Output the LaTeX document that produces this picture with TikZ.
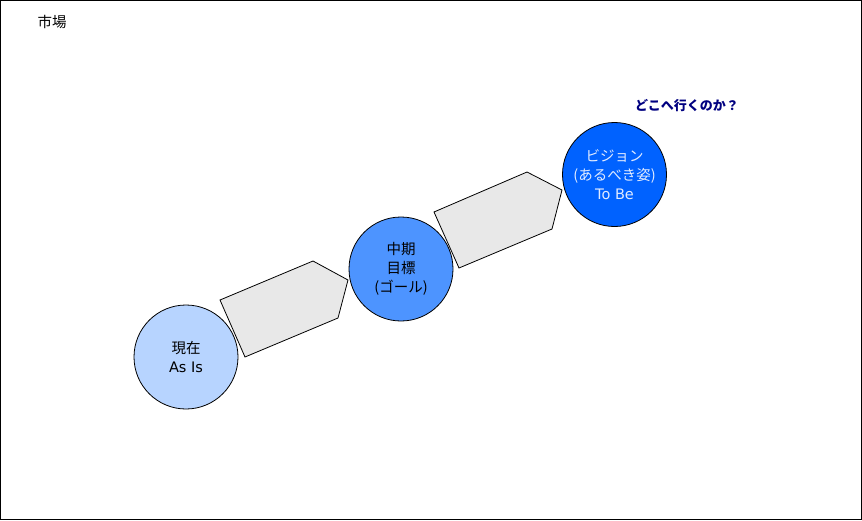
\documentclass[tikz,border=0pt]{standalone}
\usepackage{fontspec}
\setmainfont{DejaVu Sans}
\newfontfamily\jp{Noto Sans CJK JP}
\begin{document}
\begin{tikzpicture}[x=1pt,y=-1pt,
  stage/.style={circle,draw=black,line width=0.8pt,minimum size=104pt,inner sep=0pt,
    font=\fontsize{14.5}{19}\selectfont,align=center},
  arrowshape/.style={draw=black,fill=gray!18,line width=0.8pt,line join=miter}]
\useasboundingbox (0,0) rectangle (862,520);
\draw[line width=1pt] (0.5,0.5) rectangle (861.5,519.5);
\node[font=\fontsize{14.5}{16}\selectfont\jp] (market) at (52,22) {市場};
\node[font=\fontsize{13}{15}\selectfont\jp\bfseries,text={rgb,255:red,0;green,0;blue,128}] (question) at (687,106) {どこへ行くのか？};
\node[stage,fill={rgb,255:red,183;green,212;blue,255}] (asis) at (186,357) {{\jp 現在}\\As Is};
\node[stage,fill={rgb,255:red,77;green,148;blue,255}] (goal) at (401,269) {{\jp 中期}\\{\jp 目標}\\{\jp (ゴール)}};
\node[stage,fill={rgb,255:red,0;green,98;blue,255},text={rgb,255:red,225;green,235;blue,255}] (tobe) at (614.5,174.5) {{\jp ビジョン}\\{\jp (あるべき姿)}\\To Be};
\draw[arrowshape] (220,300) -- (313,261) -- (348,280) -- (338,318) -- (245,357) -- cycle;
\draw[arrowshape] (434,212) -- (527,172) -- (562,190) -- (552,229) -- (459,268) -- cycle;
\end{tikzpicture}
\end{document}
